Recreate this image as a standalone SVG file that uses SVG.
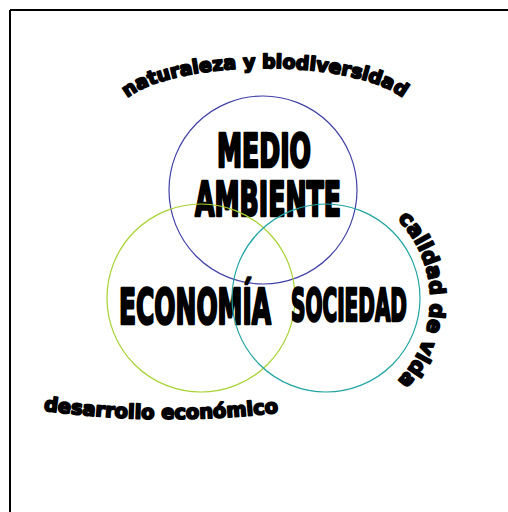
<svg xmlns="http://www.w3.org/2000/svg" width="508" height="512" viewBox="0 0 508 512">
<style>
.ring{fill:none;stroke-width:1.2}
.big{font-family:"DejaVu Sans Condensed","Liberation Sans",sans-serif;font-weight:bold;fill:#000;stroke:#000;stroke-width:2.6;stroke-linejoin:round}
.arc{font-family:"DejaVu Sans","Liberation Sans",sans-serif;font-weight:bold;fill:#000;stroke:#000;stroke-width:1.8;stroke-linejoin:round}
</style>
<defs>
<path id="pTop" d="M 118 114 A 147 46 0 0 1 412 114"/>
<path id="pRight" d="M 385 208 A 116 116 0 0 1 385 392"/>
<path id="pBottom" d="M 40 410 Q 160 427 282 412"/>
</defs>
<rect width="508" height="512" fill="#fff"/>
<g id="frame" fill="none" stroke="#000" stroke-width="2">
<line x1="10" y1="10" x2="508" y2="10"/>
<line x1="10" y1="10" x2="10" y2="512"/>
</g>
<g id="connectors"/>
<g id="medio-ambiente">
<circle class="ring" cx="263" cy="190" r="94" stroke="#4040a8"/>
<text class="big" x="217" y="167" font-size="46" textLength="94" lengthAdjust="spacingAndGlyphs">MEDIO</text>
<text class="big" x="195" y="216" font-size="48" textLength="146" lengthAdjust="spacingAndGlyphs">AMBIENTE</text>
</g>
<g id="economia">
<circle class="ring" cx="201" cy="298" r="94" stroke="#a6d22e"/>
<text class="big" x="119" y="324" font-size="50" textLength="152" lengthAdjust="spacingAndGlyphs">ECONOMÍA</text>
</g>
<g id="sociedad">
<circle class="ring" cx="326" cy="298" r="94" stroke="#1fa3a3"/>
<text class="big" x="291" y="321" font-size="45" textLength="116" lengthAdjust="spacingAndGlyphs">SOCIEDAD</text>
</g>
<g id="label-naturaleza">
<text class="arc" font-size="19"><textPath href="#pTop" startOffset="50%" text-anchor="middle">naturaleza y biodiversidad</textPath></text>
</g>
<g id="label-calidad">
<text class="arc" font-size="21"><textPath href="#pRight" startOffset="50%" text-anchor="middle">calidad de vida</textPath></text>
</g>
<g id="label-desarrollo">
<text class="arc" font-size="19.5"><textPath href="#pBottom" startOffset="50%" text-anchor="middle">desarrollo económico</textPath></text>
</g>
</svg>
